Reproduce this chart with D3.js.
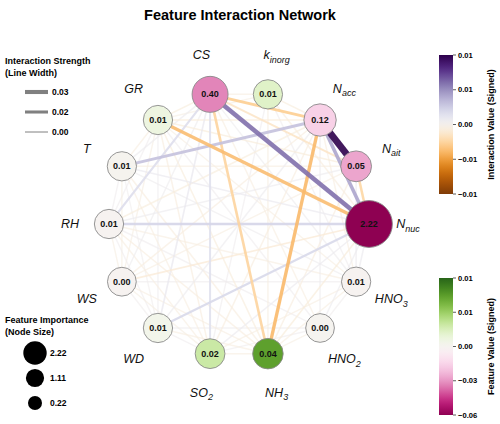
<!DOCTYPE html>
<html><head><meta charset="utf-8">
<script src="https://cdn.jsdelivr.net/npm/d3@7"></script>
<style>body{margin:0;background:#fff;} svg{display:block;font-family:"Liberation Sans",Arial,sans-serif;}</style>
</head><body><svg id="chart" width="500" height="424"></svg>
<script>
// ---------------- data ----------------
const features = ["N_nuc","N_ait","N_acc","k_inorg","CS","GR","T","RH","WS","WD","SO2","NH3","HNO2","HNO3"];
const labelMain = ["N","N","N","k","CS","GR","T","RH","WS","WD","SO","NH","HNO","HNO"];
const labelSub  = ["nuc","ait","acc","inorg","","","","","","","2","3","2","3"];
const importance = [2.22,0.05,0.12,0.01,0.40,0.01,0.01,0.01,0.004,0.01,0.02,0.04,0.003,0.01];
const featureValue = [-0.060,-0.027,-0.016,0.0025,-0.033,0.0013,0.0001,-0.0012,-0.0004,0.0006,0.0038,0.0088,0.0000,-0.0012];
const edges = [
  ["N_acc","N_ait",0.0125],["CS","N_nuc",0.0075],["N_acc","N_nuc",0.0052],["T","N_acc",0.0038],
  ["RH","N_nuc",0.0026],["WD","N_nuc",0.0024],["RH","CS",0.0020],["CS","SO2",0.0019],
  ["NH3","N_acc",-0.0048],["GR","N_nuc",-0.0046],["CS","N_acc",-0.0036],["CS","NH3",-0.0032],
  ["N_ait","N_nuc",-0.0030],["CS","N_ait",-0.0018],["WS","N_nuc",-0.0012],["CS","WD",0.0011],
  ["GR","T",-0.0006],["GR","RH",0.0005],["GR","WS",-0.0005],["GR","WD",0.0006],["GR","SO2",-0.0007],
  ["GR","NH3",-0.0008],["GR","HNO2",0.0005],["GR","HNO3",-0.0006],["GR","N_ait",-0.0009],["GR","N_acc",-0.0010],
  ["GR","k_inorg",-0.0005],["T","RH",0.0005],["T","WS",-0.0005],["T","WD",0.0004],["T","SO2",-0.0006],
  ["T","NH3",-0.0007],["T","HNO3",0.0006],["T","N_nuc",0.0009],["T","N_ait",-0.0006],["RH","WS",-0.0005],
  ["RH","WD",0.0005],["RH","SO2",-0.0006],["RH","NH3",-0.0007],["RH","HNO2",0.0005],["RH","HNO3",-0.0006],
  ["RH","N_ait",0.0007],["RH","N_acc",-0.0008],["WS","WD",0.0004],["WS","SO2",-0.0005],["WS","NH3",-0.0006],
  ["WS","HNO3",0.0005],["WS","N_ait",-0.0006],["WS","N_acc",-0.0007],["WD","SO2",0.0005],["WD","NH3",-0.0006],
  ["WD","HNO2",0.0005],["WD","N_acc",0.0007],["SO2","NH3",-0.0006],["SO2","HNO2",0.0005],["SO2","HNO3",-0.0006],
  ["SO2","N_nuc",0.0008],["SO2","N_acc",-0.0007],["NH3","HNO2",-0.0005],["NH3","HNO3",-0.0006],["NH3","N_nuc",-0.0009],
  ["NH3","N_ait",-0.0007],["HNO2","HNO3",0.0004],["HNO2","N_nuc",0.0007],["HNO2","N_acc",0.0006],["HNO3","N_nuc",0.0008],
  ["HNO3","N_acc",-0.0006],["HNO3","N_ait",0.0007],["k_inorg","N_acc",-0.0008],["k_inorg","N_nuc",-0.0007],
  ["k_inorg","CS",-0.0006],["k_inorg","SO2",0.0005],["k_inorg","NH3",-0.0006],["k_inorg","HNO3",0.0005],
  ["CS","GR",-0.0008],["CS","T",0.0007],["CS","WS",0.0006],["CS","HNO2",-0.0006],["CS","HNO3",0.0006]
];
const strengthTicks = [0.03,0.02,0.00];
const importanceTicks = [2.22,1.11,0.22];
const interactionTicks = [0.0125,0.00625,0,-0.00625,-0.0125];
const featureTicks = [0.012,0.006,0,-0.03,-0.06];
const interactionMax = 0.0125;
const featureMin = -0.06, featureMax = 0.012;

// ---------------- setup ----------------
const svg = d3.select("#chart");
const n = features.length;
const idx = new Map(features.map((f,i)=>[f,i]));
const xS = d3.scaleLinear().domain([-1,1]).range([109,369]);
const yS = d3.scaleLinear().domain([-1,1]).range([357,91]);
const ang = i => 2*Math.PI*i/n;
const nodes = features.map((f,i)=>({f,i,x:xS(Math.cos(ang(i))),y:yS(Math.sin(ang(i))),
   lx:xS(1.3*Math.cos(ang(i))),ly:yS(1.3*Math.sin(ang(i)))}));

const edgeColor = d3.scaleDiverging([-interactionMax,0,interactionMax], t=>d3.interpolatePuOr(1-t));
const nodeColor = d3.scaleDiverging([featureMin,0,featureMax], d3.interpolatePiYG).clamp(true);
const edgeWidth = d3.scaleLinear().domain([0,interactionMax]).range([1.2,6.8]);
const edgeOpacity = d3.scaleLinear().domain([0,0.002]).range([0.55,0.9]).clamp(true);
const nodeR = d3.scaleSqrt().domain([0,2.22]).range([14,23.4]);

// title
svg.append("text").attr("x",240).attr("y",20).attr("text-anchor","middle")
  .attr("font-size",14.5).attr("font-weight","bold").text("Feature Interaction Network");

// edges
const sorted = edges.slice().sort((a,b)=>Math.abs(a[2])-Math.abs(b[2]));
svg.append("g").selectAll("line").data(sorted).join("line")
  .attr("x1",d=>nodes[idx.get(d[0])].x).attr("y1",d=>nodes[idx.get(d[0])].y)
  .attr("x2",d=>nodes[idx.get(d[1])].x).attr("y2",d=>nodes[idx.get(d[1])].y)
  .attr("stroke",d=>edgeColor(d[2])).attr("stroke-width",d=>edgeWidth(Math.abs(d[2])))
  .attr("stroke-opacity",d=>edgeOpacity(Math.abs(d[2])));

// nodes
const ng = svg.append("g").selectAll("g").data(nodes).join("g")
  .attr("transform",d=>`translate(${d.x},${d.y})`);
ng.append("circle").attr("r",d=>nodeR(importance[d.i]))
  .attr("fill",d=>nodeColor(featureValue[d.i])).attr("stroke","#8a8a8a").attr("stroke-width",0.9);
ng.append("text").attr("text-anchor","middle").attr("dy","0.35em")
  .attr("font-size",9).attr("font-weight","bold").attr("fill","#111")
  .text(d=>d3.format(".2f")(importance[d.i]));

// labels
const lab = svg.append("g").selectAll("text").data(nodes).join("text")
  .attr("x",d=>d.lx).attr("y",d=>d.ly+4).attr("text-anchor","middle")
  .attr("font-size",12.5).attr("font-style","italic").attr("fill","#111");
lab.append("tspan").text(d=>labelMain[d.i]);
lab.append("tspan").attr("font-size",9).attr("dy",3.5).text(d=>labelSub[d.i]);

// line width legend
const lg = svg.append("g");
lg.append("text").attr("x",5).attr("y",64).attr("font-size",9).attr("font-weight","bold").text("Interaction Strength");
lg.append("text").attr("x",5).attr("y",76).attr("font-size",9).attr("font-weight","bold").text("(Line Width)");
const legW = d3.scaleLinear().domain([0,0.032]).range([1,4.3]);
const legY = d3.scalePoint().domain(strengthTicks).range([92,132]);
strengthTicks.forEach(s=>{
  lg.append("line").attr("x1",25).attr("x2",48).attr("y1",legY(s)).attr("y2",legY(s))
    .attr("stroke","#808080").attr("stroke-width",legW(s));
  lg.append("text").attr("x",52).attr("y",legY(s)+3).attr("font-size",8.5).attr("font-weight","bold")
    .text(d3.format(".2f")(s));
});

// node size legend
const sg = svg.append("g");
sg.append("text").attr("x",5).attr("y",323).attr("font-size",9).attr("font-weight","bold").text("Feature Importance");
sg.append("text").attr("x",5).attr("y",335).attr("font-size",9).attr("font-weight","bold").text("(Node Size)");
const legR = d3.scaleLinear().domain([0,2.22]).range([6.5,11.7]);
const legCY = d3.scalePoint().domain(importanceTicks).range([353,403]);
importanceTicks.forEach(v=>{
  sg.append("circle").attr("cx",35).attr("cy",legCY(v)).attr("r",legR(v)).attr("fill","#000");
  sg.append("text").attr("x",50).attr("y",legCY(v)+3).attr("font-size",8.5).attr("font-weight","bold")
    .text(d3.format(".2f")(v));
});

// colorbars
const defs = svg.append("defs");
function colorbar(id, y0, y1, domain, color, ticks, label){
  const yc = d3.scaleLinear().domain(domain).range(domain.length===3?[y1,(y0+y1)/2,y0]:[y1,y0]);
  const grad = defs.append("linearGradient").attr("id",id).attr("x1",0).attr("x2",0).attr("y1",0).attr("y2",1);
  d3.range(0,1.0001,0.02).forEach(t=>{
    const v = yc.invert(y0 + t*(y1-y0));
    grad.append("stop").attr("offset",t).attr("stop-color",color(v));
  });
  const g = svg.append("g");
  g.append("rect").attr("x",439).attr("y",y0).attr("width",14).attr("height",y1-y0).attr("fill",`url(#${id})`);
  ticks.forEach(v=>{
    g.append("line").attr("x1",453).attr("x2",456).attr("y1",yc(v)).attr("y2",yc(v)).attr("stroke","#333").attr("stroke-width",0.8);
    g.append("text").attr("x",458).attr("y",yc(v)+2.7).attr("font-size",7.6).attr("font-weight","bold").text(d3.format(".2f")(v));
  });
  g.append("text").attr("transform",`translate(494,${(y0+y1)/2}) rotate(-90)`).attr("text-anchor","middle")
    .attr("font-size",9).attr("font-weight","bold").text(label);
}
colorbar("gi",55,194,[-interactionMax,interactionMax],edgeColor,interactionTicks,"Interaction Value (Signed)");
colorbar("gf",278,415,[featureMin,0,featureMax],nodeColor,featureTicks,"Feature Value (Signed)");
</script></body></html>
